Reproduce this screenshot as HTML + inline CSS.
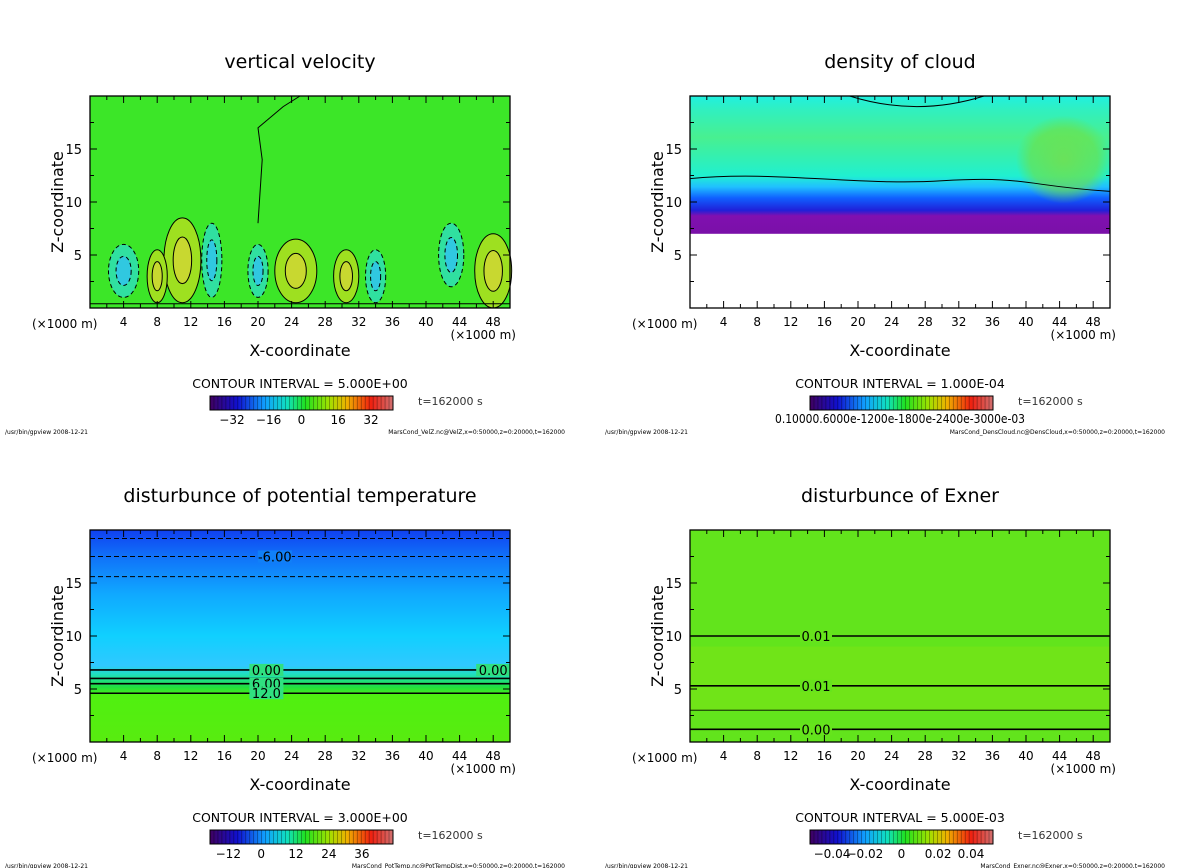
<!DOCTYPE html>
<html><head><meta charset="utf-8">
<style>
html,body{margin:0;padding:0;background:#fff;}
svg{display:block;font-family:"DejaVu Sans","Liberation Sans",sans-serif;}
</style></head>
<body>
<svg id="fig" width="1200" height="868" viewBox="0 0 1200 868" xmlns="http://www.w3.org/2000/svg">
<defs>
<linearGradient id="gCloud" x1="0" y1="1" x2="0" y2="0">
<stop offset="0" stop-color="#7a10a8"/><stop offset="0.13" stop-color="#8010b0"/>
<stop offset="0.17" stop-color="#2020d8"/><stop offset="0.26" stop-color="#1060ff"/>
<stop offset="0.34" stop-color="#20c0ff"/><stop offset="0.42" stop-color="#20f0d0"/>
<stop offset="0.7" stop-color="#48f090"/><stop offset="0.9" stop-color="#30f0c0"/>
<stop offset="1" stop-color="#20f0e0"/>
</linearGradient>
<radialGradient id="gRing">
<stop offset="0" stop-color="#70e050" stop-opacity="0.9"/><stop offset="0.7" stop-color="#70e040" stop-opacity="0.6"/>
<stop offset="1" stop-color="#70e040" stop-opacity="0"/>
</radialGradient>
<linearGradient id="gTheta" x1="0" y1="1" x2="0" y2="0">
<stop offset="0" stop-color="#58ec10"/><stop offset="0.22" stop-color="#50f010"/>
<stop offset="0.26" stop-color="#20e040"/><stop offset="0.32" stop-color="#20e0c0"/>
<stop offset="0.36" stop-color="#30c8ff"/><stop offset="0.5" stop-color="#10d0ff"/>
<stop offset="0.7" stop-color="#10a8ff"/><stop offset="0.88" stop-color="#1070f8"/>
<stop offset="1" stop-color="#1040f0"/>
</linearGradient>
<linearGradient id="gBar" x1="0" y1="0" x2="1" y2="0">
<stop offset="0" stop-color="#400060"/><stop offset="0.15" stop-color="#1010d0"/>
<stop offset="0.3" stop-color="#10a0ff"/><stop offset="0.42" stop-color="#10e0c0"/>
<stop offset="0.52" stop-color="#20e020"/><stop offset="0.65" stop-color="#a0e000"/>
<stop offset="0.75" stop-color="#f0b000"/><stop offset="0.88" stop-color="#f02010"/>
<stop offset="1" stop-color="#d07070"/>
</linearGradient>
</defs>
<g id="root"></g>
</svg>
<script>
// ---- data ----
const xTicks = [4, 8, 12, 16, 20, 24, 28, 32, 36, 40, 44, 48];
const zTicks = [5, 10, 15];
const titles = ["vertical velocity", "density of cloud", "disturbunce of potential temperature", "disturbunce of Exner"];
const intervals = ["5.000E+00", "1.000E-04", "3.000E+00", "5.000E-03"];
const files = ["MarsCond_VelZ.nc@VelZ,x=0:50000,z=0:20000,t=162000",
 "MarsCond_DensCloud.nc@DensCloud,x=0:50000,z=0:20000,t=162000",
 "MarsCond_PotTemp.nc@PotTempDist,x=0:50000,z=0:20000,t=162000",
 "MarsCond_Exner.nc@Exner,x=0:50000,z=0:20000,t=162000"];
const barLabels = [["-32","-16","0","16","32"], null, ["-12","0","12","24","36"], ["-0.04","-0.02","0","0.02","0.04"]];
const barFrac = [[0.12,0.32,0.5,0.7,0.88],null,[0.1,0.28,0.47,0.65,0.83],[0.12,0.3,0.5,0.7,0.88]];
// vertical velocity blobs (x km, z km, half-width km, half-height km, value)
const wX = [11, 48, 24.5, 30.5, 4, 14.5, 20, 34, 43, 8];
const wZ = [4.5, 3.5, 3.5, 3, 3.5, 4.5, 3.5, 3, 5, 3];
const wRX = [2.2, 2.2, 2.5, 1.5, 1.8, 1.2, 1.2, 1.2, 1.5, 1.2];
const wRZ = [4, 3.5, 3, 2.5, 2.5, 3.5, 2.5, 2.5, 3, 2.5];
const wV = [12, 14, 9, 8, -10, -8, -8, -7, -7, 6];
// theta contours (z km)
const thLevels = [17.5, 15.6, 19.2, 6.8, 6.0, 5.5, 4.6];
const thDash = [true, true, true, false, false, false, false];
// exner contours
const exLevels = [10, 5.3, 3.0, 1.2];
const exLabels = ["0.01", "0.01", "", "0.00"];

const NS = "http://www.w3.org/2000/svg";
const root = document.getElementById("root");
function el(tag, attrs, parent, text) {
  const e = document.createElementNS(NS, tag);
  for (const k in attrs) e.setAttribute(k, attrs[k]);
  if (text !== undefined) e.textContent = text;
  (parent || root).appendChild(e);
  return e;
}
const panels = [{x0:90,y0:96,t:"vv"},{x0:690,y0:96,t:"cl"},{x0:90,y0:530,t:"th"},{x0:690,y0:530,t:"ex"}];
const W = 420, H = 212;

panels.forEach((p, i) => {
  const g = el("g", {});
  
  
  const sx = v => p.x0 + v / 50 * W;
  const sz = v => p.y0 + H - v / 20 * H;
  const ox = p.x0 - 90;
  const oy = p.y0 - 96;
  const t = el("text", {x: 300 + ox, y: 68 + oy, "text-anchor": "middle", "font-size": 19}, g, titles[i]);
  
  
  const area = el("g", {}, g);
  
  
  if (p.t === "vv") {
    el("rect", {x: p.x0, y: p.y0, width: W, height: H, fill: "#3ce628"}, area);
    for (let k = 0; k < wX.length; k++) {
      const pos = wV[k] > 0;
      const c1 = pos ? "#9ee020" : "#30e0a0", c2 = pos ? "#c8d830" : "#30c8e0";
      const b = el("ellipse", {cx: sx(wX[k]), cy: sz(wZ[k]), rx: wRX[k] / 50 * W, ry: wRZ[k] / 20 * H, fill: c1, stroke: "#000", "stroke-width": 1, "stroke-dasharray": pos ? "" : "4 3"}, area);
      
      
      el("ellipse", {cx: sx(wX[k]), cy: sz(wZ[k]), rx: wRX[k] / 50 * W * 0.5, ry: wRZ[k] / 20 * H * 0.55, fill: c2, stroke: "#000", "stroke-width": 1, "stroke-dasharray": pos ? "" : "4 3"}, area);
    }
    el("path", {d: "M" + sx(0) + "," + sz(0.4) + " L" + sx(50) + "," + sz(0.4), stroke: "#000", fill: "none"}, area);
    el("path", {d: "M" + sx(20) + "," + sz(8) + " L" + sx(20.5) + "," + sz(14) + " L" + sx(20) + "," + sz(17) + " L" + sx(23) + "," + sz(19) + " L" + sx(25) + "," + sz(20), stroke: "#000", fill: "none"}, area);
  } else if (p.t === "cl") {
    el("rect", {x: p.x0, y: p.y0, width: W, height: H, fill: "#fff"}, area);
    el("rect", {x: p.x0, y: sz(20), width: W, height: sz(7) - sz(20), fill: "url(#gCloud)"}, area);
    el("ellipse", {cx: sx(44.5), cy: sz(14), rx: 48, ry: 44, fill: "url(#gRing)"}, area);
    el("path", {d: "M" + sx(0) + "," + sz(12.2) + " C" + sx(10) + "," + sz(13) + " " + sx(20) + "," + sz(11.5) + " " + sx(30) + "," + sz(12) + " S" + sx(40) + "," + sz(11.5) + " " + sx(50) + "," + sz(11), stroke: "#000", fill: "none", "stroke-width": 1}, area);
    el("path", {d: "M" + sx(19) + "," + sz(20) + " Q" + sx(27) + "," + sz(18) + " " + sx(35) + "," + sz(20), stroke: "#000", fill: "none"}, area);
  } else if (p.t === "th") {
    el("rect", {x: p.x0, y: p.y0, width: W, height: H, fill: "url(#gTheta)"}, area);
    thLevels.forEach((z, k) => {
      const l = el("line", {x1: p.x0, x2: p.x0 + W, y1: sz(z), y2: sz(z), stroke: "#000", "stroke-width": k >= 3 ? 1.6 : 1, "stroke-dasharray": thDash[k] ? "5 3" : ""}, area);
      
      
    });
    [["-6.00", 22, 17.5], ["0.00", 21, 6.8], ["6.00", 21, 5.5], ["12.0", 21, 4.6], ["0.00", 48, 6.8]].forEach(a => {
      el("rect", {x: sx(a[1]) - 17, y: sz(a[2]) - 6, width: 34, height: 12, fill: a[2] > 10 ? "#1080f8" : "#30e080"}, area);
      el("text", {x: sx(a[1]), y: sz(a[2]) + 5, "text-anchor": "middle", "font-size": 13}, area, a[0]);
    });
  } else {
    el("rect", {x: p.x0, y: p.y0, width: W, height: H, fill: "#62e41c"}, area);
    el("rect", {x: p.x0, y: sz(9), width: W, height: sz(3) - sz(9), fill: "#70e418"}, area);
    exLevels.forEach((z, k) => {
      const l = el("line", {x1: p.x0, x2: p.x0 + W, y1: sz(z), y2: sz(z), stroke: "#000", "stroke-width": k === 2 ? 0.8 : 1.6}, area);
      
      
      if (exLabels[k]) {
        el("rect", {x: sx(15) - 16, y: sz(z) - 6, width: 32, height: 12, fill: "#66e41c"}, area);
        el("text", {x: sx(15), y: sz(z) + 5, "text-anchor": "middle", "font-size": 13}, area, exLabels[k]);
      }
    });
  }
  el("rect", {x: p.x0, y: p.y0, width: W, height: H, fill: "none", stroke: "#000", "stroke-width": 1.3}, g);
  for (let v = 2; v < 50; v += 2) {
    const L = v % 4 === 0 ? 7 : 4;
    el("line", {x1: sx(v), x2: sx(v), y1: p.y0 + H, y2: p.y0 + H - L, stroke: "#000"}, g);
    el("line", {x1: sx(v), x2: sx(v), y1: p.y0, y2: p.y0 + L, stroke: "#000"}, g);
  }
  for (let v = 2.5; v < 20; v += 2.5) {
    const L = v % 5 === 0 ? 7 : 4;
    el("line", {x1: p.x0, x2: p.x0 + L, y1: sz(v), y2: sz(v), stroke: "#000"}, g);
    el("line", {x1: p.x0 + W, x2: p.x0 + W - L, y1: sz(v), y2: sz(v), stroke: "#000"}, g);
  }
  xTicks.forEach(v => {
    const tl = el("text", {x: sx(v), y: p.y0 + H + 18, "text-anchor": "middle", "font-size": 12}, g, String(v));
    
    
  });
  zTicks.forEach(v => {
    const tl = el("text", {x: p.x0 - 8, y: sz(v) + 5, "text-anchor": "end", "font-size": 13}, g, String(v));
    
    
  });
  el("text", {x: p.x0 - 58, y: p.y0 + H + 20, "font-size": 12}, g, "(×1000 m)");
  el("text", {x: p.x0 + W + 6, y: p.y0 + H + 31, "text-anchor": "end", "font-size": 12}, g, "(×1000 m)");
  const xt = el("text", {x: 300 + ox, y: p.y0 + H + 48, "text-anchor": "middle", "font-size": 16}, g, "X-coordinate");
  
  
  const yt = el("text", {x: 0, y: 0, "text-anchor": "middle", "font-size": 16, transform: "translate(" + (p.x0 - 27) + "," + (p.y0 + 106) + ") rotate(-90)"}, g, "Z-coordinate");
  
  
  const ci = el("text", {x: 300 + ox, y: p.y0 + H + 80, "text-anchor": "middle", "font-size": 12.5}, g, "CONTOUR INTERVAL = " + intervals[i]);
  
  
  const bx = 210 + ox, by = p.y0 + H + 88;
  const bar = el("rect", {x: bx, y: by, width: 183, height: 14, fill: "url(#gBar)", stroke: "#000"}, g);
  
  
  for (let k = 1; k < 46; k++) el("line", {x1: bx + k * 183 / 46, x2: bx + k * 183 / 46, y1: by, y2: by + 14, stroke: "#000", "stroke-width": 0.5, opacity: 0.6}, g);
  if (barLabels[i]) {
    barLabels[i].forEach((s, k) => el("text", {x: bx + barFrac[i][k] * 183, y: by + 28, "text-anchor": "middle", "font-size": 12}, g, s.replace("-", "−")));
  } else {
    el("text", {x: bx + 90, y: by + 27, "text-anchor": "middle", "font-size": 12, textLength: 250, lengthAdjust: "spacingAndGlyphs"}, g, "0.10000.6000e-1200e-1800e-2400e-3000e-03");
  }
  el("text", {x: 418 + ox, y: by + 9, "font-size": 11, fill: "#333"}, g, "t=162000  s");
  el("text", {x: 5 + ox, y: by + 38, "font-size": 6}, g, "/usr/bin/gpview   2008-12-21");
  el("text", {x: 565 + ox, y: by + 38, "font-size": 6, "text-anchor": "end"}, g, files[i]);
});
</script>
</body></html>
